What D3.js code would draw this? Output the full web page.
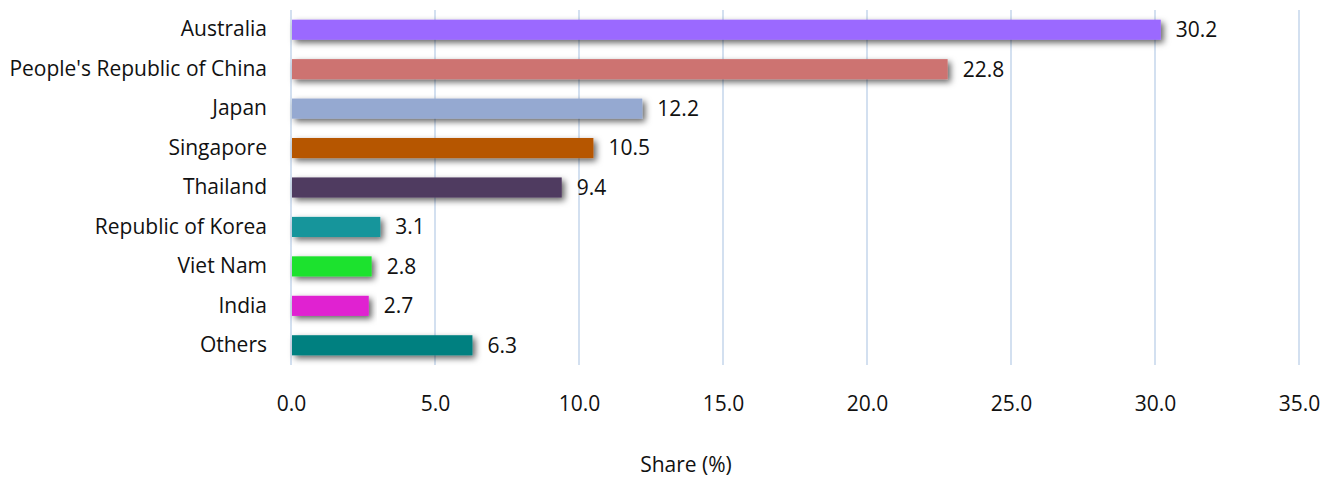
<!DOCTYPE html>
<html>
<head>
<meta charset="utf-8">
<script src="https://cdn.jsdelivr.net/npm/d3@7"></script>
<style>
  body { margin: 0; background: #fff; }
  text { font-family: "Open Sans", sans-serif; fill: #111; }
</style>
</head>
<body>
<svg id="chart"></svg>
<script>
const countries = ["Australia", "People's Republic of China", "Japan", "Singapore", "Thailand",
    "Republic of Korea", "Viet Nam", "India", "Others"];
const shares = [30.2, 22.8, 12.2, 10.5, 9.4, 3.1, 2.8, 2.7, 6.3];
const colors = ["#9B69FF", "#CD7371", "#95A9D1", "#B65600", "#4F3A60",
    "#13959B", "#1EE22E", "#E021D1", "#008080"];
const ticks = [0, 5, 10, 15, 20, 25, 30, 35];

const width = 1331, height = 479;
const margin = {top: 10, right: 32, bottom: 114, left: 291};
const fontSize = 21;

const svg = d3.select("#chart")
    .attr("width", width)
    .attr("height", height);

// soft shadow under each bar
const shadow = svg.append("defs").append("filter")
    .attr("id", "shadow")
    .attr("x", "-5%").attr("y", "-50%")
    .attr("width", "115%").attr("height", "220%");
shadow.append("feDropShadow")
    .attr("dx", 3).attr("dy", 3)
    .attr("stdDeviation", 3)
    .attr("flood-color", "#000")
    .attr("flood-opacity", 0.6);

const x = d3.scaleLinear()
    .domain([0, 35])
    .range([margin.left, width - margin.right]);

const y = d3.scaleBand()
    .domain(countries)
    .range([margin.top, height - margin.bottom])
    .paddingInner(0.49)
    .paddingOuter(0.245);

// vertical gridlines
svg.append("g")
    .selectAll("line")
    .data(ticks)
    .join("line")
    .attr("x1", d => x(d))
    .attr("x2", d => x(d))
    .attr("y1", margin.top)
    .attr("y2", height - margin.bottom)
    .attr("stroke", "#D3E0F0")
    .attr("stroke-width", 2);

// bars
svg.append("g")
    .selectAll("rect")
    .data(countries)
    .join("rect")
    .attr("x", x(0) + 1)
    .attr("y", d => y(d))
    .attr("width", (d, i) => x(shares[i]) - x(0) - 1)
    .attr("height", y.bandwidth())
    .attr("fill", (d, i) => colors[i])
    .attr("filter", "url(#shadow)");

// value labels
svg.append("g")
    .selectAll("text")
    .data(countries)
    .join("text")
    .attr("x", (d, i) => x(shares[i]) + 15)
    .attr("y", d => y(d) + y.bandwidth() / 2)
    .attr("dy", "0.35em")
    .attr("font-size", fontSize)
    .text((d, i) => shares[i].toFixed(1));

// category labels
const yAxis = svg.append("g")
    .attr("transform", `translate(${margin.left - 24},0)`)
    .call(d3.axisLeft(y).tickSize(0).tickPadding(0));
yAxis.select(".domain").remove();
yAxis.selectAll("text")
    .attr("font-size", fontSize)
    .style("font-family", "'Open Sans', sans-serif")
    .attr("fill", "#111");

// x tick labels
const xAxis = svg.append("g")
    .attr("transform", `translate(0,${height - margin.bottom + 19})`)
    .call(d3.axisBottom(x).tickValues(ticks).tickFormat(d3.format(".1f")).tickSize(0).tickPadding(12));
xAxis.select(".domain").remove();
xAxis.selectAll("text")
    .attr("font-size", fontSize)
    .style("font-family", "'Open Sans', sans-serif")
    .attr("fill", "#111");

// axis title
svg.append("text")
    .attr("x", 686)
    .attr("y", 472)
    .attr("text-anchor", "middle")
    .attr("font-size", fontSize)
    .text("Share (%)");
</script>
</body>
</html>
